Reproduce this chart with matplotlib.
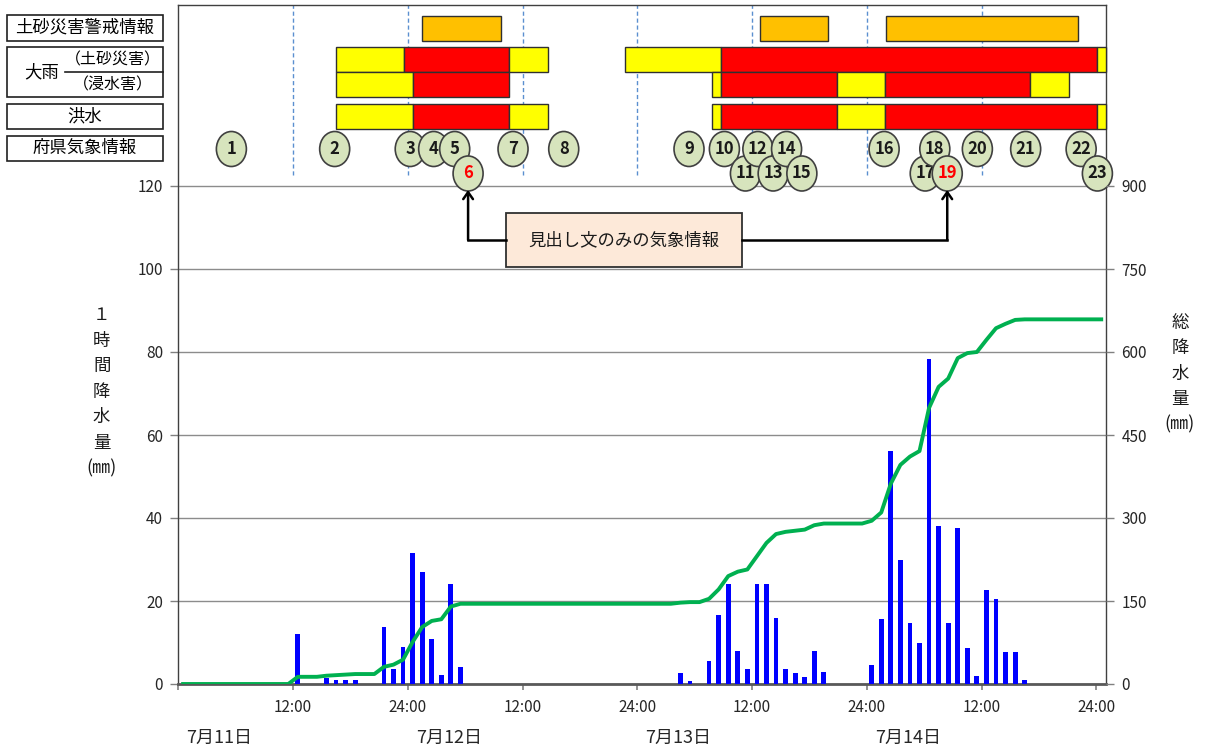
import numpy as np
import matplotlib
matplotlib.use('Agg')
import matplotlib.pyplot as plt
from matplotlib.patches import Rectangle, Ellipse

plt.rcParams['font.family'] = ['Noto Sans CJK JP', 'DejaVu Sans']

# ---------------- data ----------------
hourly_rain = [0, 0, 0, 0, 0, 0, 0, 0, 0, 0, 0, 0,
               12.0, 0, 0, 1.5, 1.0, 1.0, 1.0, 0, 0, 13.7, 3.6, 9.0,
               31.6, 26.9, 10.8, 2.1, 24.0, 4.1, 0, 0, 0, 0, 0, 0,
               0, 0, 0, 0, 0, 0, 0, 0, 0, 0, 0, 0,
               0, 0, 0, 0, 2.6, 0.8, 0, 5.6, 16.6, 24.0, 8.0, 3.6,
               24.0, 24.0, 16.0, 3.6, 2.6, 1.6, 8.0, 3.0, 0, 0, 0, 0,
               4.6, 15.6, 56.1, 29.9, 14.6, 10.0, 78.3, 38.1, 14.6, 37.5, 8.6, 2.0,
               22.7, 20.6, 7.6, 7.6, 1.0, 0, 0, 0, 0, 0, 0, 0,
               0]
total_rain = [0, 0, 0, 0, 0, 0, 0, 0, 0, 0, 0, 0,
              13, 13, 13, 15, 16, 17, 18, 18, 18, 31, 35, 44,
              76, 103, 114, 117, 140, 145, 145, 145, 145, 145, 145, 145,
              145, 145, 145, 145, 145, 145, 145, 145, 145, 145, 145, 145,
              145, 145, 145, 145, 147, 148, 148, 154, 171, 195, 203, 207,
              231, 255, 271, 275, 277, 279, 287, 290, 290, 290, 290, 290,
              295, 310, 362, 396, 411, 421, 499, 537, 552, 589, 598, 600,
              622, 643, 651, 658, 659, 659, 659, 659, 659, 659, 659, 659,
              659]

x_ticks = [0, 12, 24, 36, 48, 60, 72, 84, 96]
x_tick_labels = ['', '12:00', '24:00', '12:00', '24:00', '12:00', '24:00', '12:00', '24:00']
date_labels = ['7月11日', '7月12日', '7月13日', '7月14日']
date_positions = [4.3, 28.3, 52.3, 76.3]
left_ticks = [0, 20, 40, 60, 80, 100, 120]
right_ticks = [0, 150, 300, 450, 600, 750, 900]

# warning periods (start hour, end hour, level)
landslide_alert = [(25.5, 33.7), (60.8, 67.9), (74.0, 94.1)]
heavy_rain_landslide = [(16.5, 23.55, 'adv'), (23.55, 34.6, 'warn'), (34.6, 38.65, 'adv'),
                        (46.67, 56.76, 'adv'), (56.76, 96.1, 'warn'), (96.1, 97.0, 'adv')]
heavy_rain_inundation = [(16.5, 24.5, 'adv'), (24.5, 34.6, 'warn'),
                         (55.8, 56.76, 'adv'), (56.76, 68.9, 'warn'), (68.9, 73.9, 'adv'),
                         (73.9, 89.05, 'warn'), (89.05, 93.1, 'adv')]
flood = [(16.5, 24.5, 'adv'), (24.5, 34.6, 'warn'), (34.6, 38.65, 'adv'),
         (55.8, 56.76, 'adv'), (56.76, 68.9, 'warn'), (68.9, 73.9, 'adv'),
         (73.9, 96.1, 'warn'), (96.1, 97.0, 'adv')]

info_numbers = list(range(1, 24))
info_times = [5.55, 16.35, 24.25, 26.7, 28.9, 30.3, 35.0, 40.3, 53.4, 57.1, 59.3, 60.6,
              62.2, 63.6, 65.2, 73.8, 78.1, 79.1, 80.4, 83.55, 88.6, 94.4, 96.1]
info_lower_row = [6, 11, 13, 15, 17, 19, 23]
headline_only = [6, 19]
dashed_hours = [12, 24, 36, 48, 60, 72, 84]

# ---------------- layout ----------------
W, H = 1207, 753
fig = plt.figure(figsize=(W / 100, H / 100), dpi=100)

# overlay for labels in pixel coordinates
lab = fig.add_axes([0, 0, 1, 1])
lab.set_xlim(0, W)
lab.set_ylim(H, 0)
lab.axis('off')

AX_L, AX_R, AX_T, AX_B = 178.3, 1106, 5, 684
ax = fig.add_axes([AX_L / W, (H - AX_B) / H, (AX_R - AX_L) / W, (AX_B - AX_T) / H])
u_per_px = 120 / (AX_B - 186)
ytop = (AX_B - AX_T) * u_per_px
ax.set_xlim(0, 97)
ax.set_ylim(0, ytop)


def py(p):
    return (AX_B - p) * u_per_px


px_per_h = (AX_R - AX_L) / 97

x = np.arange(len(hourly_rain)) + 0.5
ax.bar(x, hourly_rain, width=0.5, color='#0000FF', zorder=3)

ax.set_yticks(left_ticks)
ax.set_yticklabels([str(v) for v in left_ticks])
ax.grid(axis='y', color='#8C8C8C', lw=1.0, zorder=0)
ax.set_axisbelow(True)
ax.set_xticks(x_ticks)
ax.set_xticklabels(x_tick_labels)
ax.tick_params(axis='x', length=4, width=1.2, color='#808080', pad=7, labelsize=11, labelcolor='#262626')
ax.tick_params(axis='y', length=6, width=1.0, color='#808080', pad=5, labelsize=11, labelcolor='#262626')
for s in ['left', 'top', 'right']:
    ax.spines[s].set_color('#404040')
    ax.spines[s].set_linewidth(1.0)
ax.spines['bottom'].set_color('#595959')
ax.spines['bottom'].set_linewidth(2.0)

for dl, dp in zip(date_labels, date_positions):
    ax.text(dp, (AX_B - 738) / (AX_B - AX_T), dl, transform=ax.get_xaxis_transform(),
            ha='center', va='center', fontsize=13, color='#262626')

ax2 = ax.twinx()
ax2.set_ylim(0, ytop * 7.5)
ax2.set_yticks(right_ticks)
ax2.set_yticklabels([str(v) for v in right_ticks])
ax2.tick_params(axis='y', length=6, width=1.0, color='#808080', pad=5, labelsize=11, labelcolor='#262626')
for s in ax2.spines.values():
    s.set_visible(False)
ax2.plot(x, total_rain, color='#00B050', lw=2.8, solid_joinstyle='round', zorder=4)

# dashed guide lines in top area
for h in dashed_hours:
    ax.plot([h, h], [py(175), ytop], color='#5B8FD0', lw=1.0, ls=(0, (3, 2)), zorder=1)

colors = {'adv': '#FFFF00', 'warn': '#FF0000'}
rows = [(py(40.7), py(15.7)), (py(72.3), py(47.3)), (py(97.3), py(72.3)), (py(129), py(104.3))]
for s, e in landslide_alert:
    y0, y1 = rows[0]
    ax.add_patch(Rectangle((s, y0), e - s, y1 - y0, facecolor='#FFC000', edgecolor='#303030', lw=1.0, zorder=5))
for ri, segs in zip([1, 2, 3], [heavy_rain_landslide, heavy_rain_inundation, flood]):
    y0, y1 = rows[ri]
    for s, e, lv in segs:
        ax.add_patch(Rectangle((s, y0), e - s, y1 - y0, facecolor=colors[lv], edgecolor='#303030',
                               lw=1.0, zorder=5, clip_on=False))

# weather information bubbles
bw = 30 / px_per_h
bh = 35 * u_per_px
for n, t in zip(info_numbers, info_times):
    yc = py(173.5) if n in info_lower_row else py(149)
    ax.add_patch(Ellipse((t, yc), bw, bh, facecolor='#D7E4BD', edgecolor='#404040', lw=1.2,
                         zorder=6 + n * 0.01, clip_on=False))
    ax.text(t, yc, str(n), ha='center', va='center', fontsize=12, fontweight='bold',
            color='#FF0000' if n in headline_only else '#1A1A1A', zorder=6 + n * 0.01 + 0.005,
            clip_on=False)

# annotation box and arrows
bx0, bx1 = (506 - AX_L) / px_per_h, (742 - AX_L) / px_per_h
by0, by1 = py(267), py(213)
ymid = py(240)
ax.add_patch(Rectangle((bx0, by0), bx1 - bx0, by1 - by0, facecolor='#FDE9D9', edgecolor='#303030', lw=1.3, zorder=7))
ax.text((bx0 + bx1) / 2, ymid, '見出し文のみの気象情報', ha='center', va='center', fontsize=12.5, color='#1A1A1A', zorder=8)
t6 = info_times[info_numbers.index(6)]
t19 = info_times[info_numbers.index(19)]
ytip = py(190)
ax.plot([t6, bx0], [ymid, ymid], color='black', lw=1.8, zorder=7, solid_joinstyle='miter')
ax.plot([bx1, t19], [ymid, ymid], color='black', lw=1.8, zorder=7)
for t in [t6, t19]:
    ax.annotate('', xy=(t, ytip), xytext=(t, ymid),
                arrowprops=dict(arrowstyle='->,head_length=0.5,head_width=0.35', lw=1.8, color='black',
                                shrinkA=0, shrinkB=0), zorder=9)

# left label boxes
lx0, lx1 = 7.3, 162.7
box_font = 12.5
lab.add_patch(Rectangle((lx0, 15), lx1 - lx0, 25.7, facecolor='white', edgecolor='#202020', lw=1.2))
lab.text((lx0 + lx1) / 2, 28, '土砂災害警戒情報', ha='center', va='center', fontsize=box_font)
lab.add_patch(Rectangle((lx0, 47.3), lx1 - lx0, 50, facecolor='white', edgecolor='#202020', lw=1.2))
lab.plot([65, lx1], [72.3, 72.3], color='#202020', lw=1.2)
lab.text(42, 72.3, '大雨', ha='center', va='center', fontsize=box_font)
lab.text(113, 59.8, '（土砂災害）', ha='center', va='center', fontsize=11.5)
lab.text(113, 84.8, '（浸水害）', ha='center', va='center', fontsize=11.5)
lab.add_patch(Rectangle((lx0, 104.3), lx1 - lx0, 24.7, facecolor='white', edgecolor='#202020', lw=1.2))
lab.text((lx0 + lx1) / 2, 116.6, '洪水', ha='center', va='center', fontsize=box_font)
lab.add_patch(Rectangle((lx0, 135.7), lx1 - lx0, 25, facecolor='white', edgecolor='#202020', lw=1.2))
lab.text((lx0 + lx1) / 2, 148.2, '府県気象情報', ha='center', va='center', fontsize=box_font)

# axis titles (stacked vertical text)
left_title = ['１', '時', '間', '降', '水', '量', '(㎜)']
for i, ch in enumerate(left_title):
    lab.text(101.7, 315 + i * 25.5, ch, ha='center', va='center',
             fontsize=13 if ch == '(㎜)' else 12.5, color='#1A1A1A')
right_title = ['総', '降', '水', '量', '(㎜)']
for i, ch in enumerate(right_title):
    lab.text(1180, 323 + i * 25.3, ch, ha='center', va='center',
             fontsize=13 if ch == '(㎜)' else 12.5, color='#1A1A1A')

fig.savefig('out.png', dpi=100)
